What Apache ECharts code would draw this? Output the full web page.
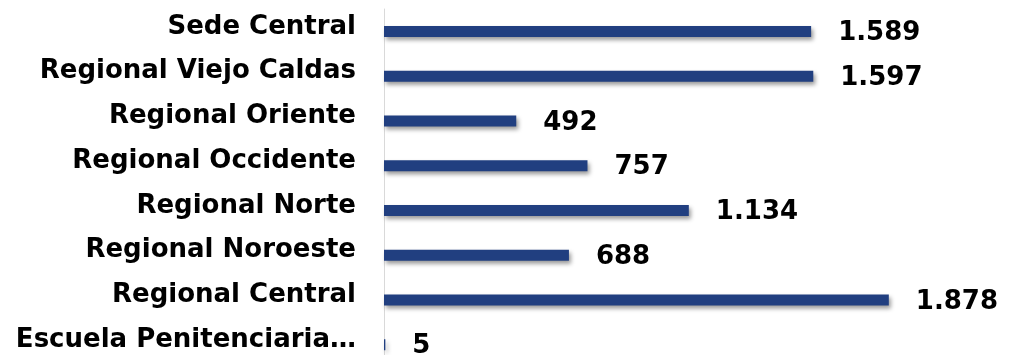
<!DOCTYPE html>
<html>
<head>
<meta charset="utf-8">
<script src="https://cdn.jsdelivr.net/npm/echarts@6/dist/echarts.min.js"></script>
<style>
  html, body { margin: 0; padding: 0; background: #fff; }
  #chart { width: 1012px; height: 355px; }
</style>
</head>
<body>
<div id="chart"></div>
<script>
// categories top to bottom
const categories = [
  'Sede Central',
  'Regional Viejo Caldas',
  'Regional Oriente',
  'Regional Occidente',
  'Regional Norte',
  'Regional Noroeste',
  'Regional Central',
  'Escuela Penitenciaria…'
];
const values = [1589, 1597, 492, 757, 1134, 688, 1878, 5];

const chart = echarts.init(document.getElementById('chart'));
chart.setOption({
  animation: false,
  backgroundColor: '#fff',
  textStyle: { fontFamily: 'DejaVu Sans' },
  grid: {
    left: 384,
    top: 9,
    width: 629,
    height: 358,
    containLabel: false,
    outerBoundsMode: 'none'
  },
  xAxis: {
    type: 'value',
    min: 0,
    max: 2340,
    show: false
  },
  yAxis: {
    type: 'category',
    inverse: true,
    data: categories,
    axisTick: { show: false },
    axisLine: { lineStyle: { color: '#d9d9d9', width: 1 } },
    axisLabel: {
      margin: 28,
      color: '#000',
      fontSize: 26,
      fontWeight: 'bold',
      fontFamily: 'DejaVu Sans',
      verticalAlign: 'bottom',
      lineHeight: 9
    }
  },
  series: [{
    type: 'bar',
    data: values,
    barWidth: 11,
    itemStyle: {
      color: '#213F80',
      shadowColor: 'rgba(0,0,0,0.4)',
      shadowBlur: 4,
      shadowOffsetX: 2,
      shadowOffsetY: 3
    },
    label: {
      show: true,
      position: 'right',
      distance: 27,
      offset: [0, 2],
      color: '#000',
      fontSize: 26,
      fontWeight: 'bold',
      fontFamily: 'DejaVu Sans',
      formatter: function (p) {
        return p.value.toLocaleString('de-DE');
      }
    }
  }]
});
</script>
</body>
</html>
